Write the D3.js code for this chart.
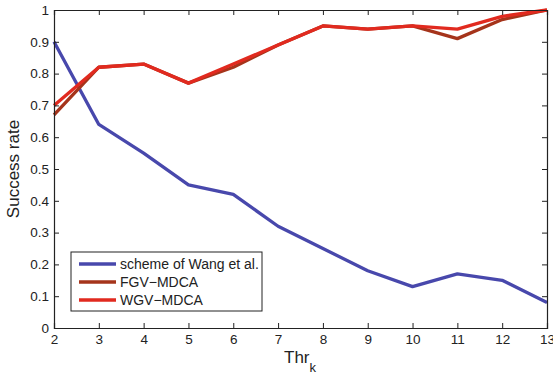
<!DOCTYPE html>
<html>
<head>
<meta charset="utf-8">
<script src="https://cdn.jsdelivr.net/npm/d3@7"></script>
<style>
  body { margin: 0; background: #fff; }
  text { font-family: "Liberation Sans", Arial, sans-serif; fill: #222; }
</style>
</head>
<body>
<div id="chart"></div>
<script>
// values
var thr = [2, 3, 4, 5, 6, 7, 8, 9, 10, 11, 12, 13];
var wang = [0.90, 0.64, 0.55, 0.45, 0.42, 0.32, 0.25, 0.18, 0.13, 0.17, 0.15, 0.08];
var fgv  = [0.67, 0.82, 0.83, 0.77, 0.82, 0.89, 0.95, 0.94, 0.95, 0.91, 0.97, 1.00];
var wgv  = [0.70, 0.82, 0.83, 0.77, 0.83, 0.89, 0.95, 0.94, 0.95, 0.94, 0.98, 1.00];
var yTicks = [0, 0.1, 0.2, 0.3, 0.4, 0.5, 0.6, 0.7, 0.8, 0.9, 1];

var series = [
  {name: "scheme of Wang et al.", values: wang, color: "#4848ac"},
  {name: "FGV\u2212MDCA", values: fgv, color: "#a5341b"},
  {name: "WGV\u2212MDCA", values: wgv, color: "#e12a1f"}
];

var W = 553, H = 376;
var margin = {left: 54, right: 6, top: 10, bottom: 48};

var svg = d3.select("#chart").append("svg")
    .attr("width", W).attr("height", H);

var x = d3.scaleLinear().domain([2, 13]).range([margin.left, W - margin.right]);
var y = d3.scaleLinear().domain([0, 1]).range([H - margin.bottom, margin.top]);

// lines first, then the frame on top
var line = d3.line()
    .x(function(d, i) { return x(thr[i]); })
    .y(function(d) { return y(d); });

svg.selectAll(".series")
    .data(series)
    .enter()
    .append("path")
    .attr("class", "series")
    .attr("fill", "none")
    .attr("stroke", function(d) { return d.color; })
    .attr("stroke-width", 3.3)
    .attr("stroke-linejoin", "round")
    .attr("d", function(d) { return line(d.values); });

// axes, matlab style: ticks inward, box all round
var xAxis = svg.append("g")
    .attr("transform", "translate(0," + y(0) + ")")
    .call(d3.axisBottom(x).tickValues(thr).tickSize(-5).tickPadding(6).tickFormat(d3.format("d")));
var xTop = svg.append("g")
    .attr("transform", "translate(0," + y(1) + ")")
    .call(d3.axisTop(x).tickValues(thr).tickSize(-5).tickFormat(""));
var yAxis = svg.append("g")
    .attr("transform", "translate(" + x(2) + ",0)")
    .call(d3.axisLeft(y).tickValues(yTicks).tickSize(-5).tickPadding(5).tickFormat(d3.format("")));
var yRight = svg.append("g")
    .attr("transform", "translate(" + x(13) + ",0)")
    .call(d3.axisRight(y).tickValues(yTicks).tickSize(-5).tickFormat(""));

[xAxis, xTop, yAxis, yRight].forEach(function(g) {
  g.select(".domain").attr("stroke", "#222").attr("stroke-width", 1.2);
  g.selectAll(".tick line").attr("stroke", "#222");
  g.selectAll("text").style("font-size", "13.5px").attr("fill", "#222");
});

// axis labels
svg.append("text")
    .attr("transform", "translate(19," + ((margin.top + H - margin.bottom) / 2) + ") rotate(-90)")
    .attr("text-anchor", "middle")
    .style("font-size", "17px")
    .text("Success rate");

var xl = svg.append("text")
    .attr("x", 300).attr("y", 363)
    .attr("text-anchor", "middle")
    .style("font-size", "17px");
xl.append("tspan").text("Thr");
xl.append("tspan").attr("dy", 9).style("font-size", "13px").text("k");

// legend
var lg = svg.append("g").attr("transform", "translate(71,252)");
lg.append("rect")
    .attr("width", 191).attr("height", 59)
    .attr("fill", "#fff").attr("stroke", "#222").attr("stroke-width", 1);
var items = lg.selectAll(".item")
    .data(series)
    .enter()
    .append("g")
    .attr("transform", function(d, i) { return "translate(0," + (12 + i * 18) + ")"; });
items.append("line")
    .attr("x1", 8).attr("x2", 45)
    .attr("stroke", function(d) { return d.color; })
    .attr("stroke-width", 3.3);
items.append("text")
    .attr("x", 49).attr("dy", "0.35em")
    .style("font-size", "14px")
    .text(function(d) { return d.name; });
</script>
</body>
</html>
